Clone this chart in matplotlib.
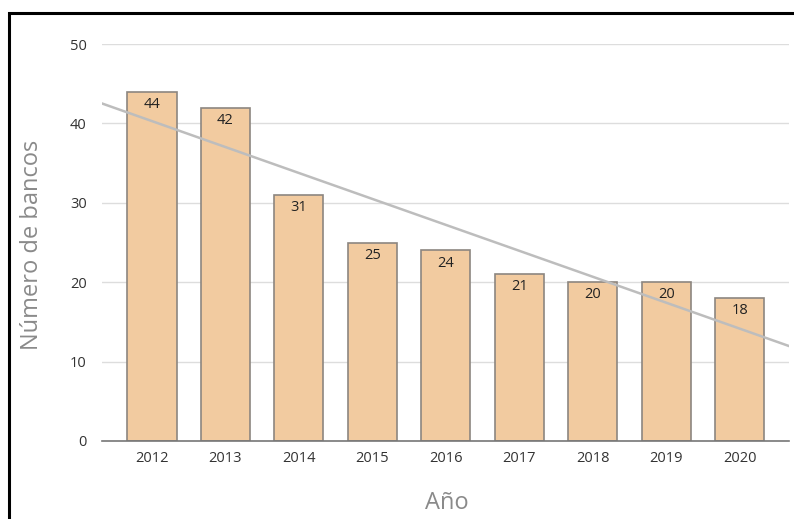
import numpy as np
import matplotlib.pyplot as plt
from matplotlib.patches import Rectangle

# Number of banks per year
years = ['2012', '2013', '2014', '2015', '2016', '2017', '2018', '2019', '2020']
banks = [44, 42, 31, 25, 24, 21, 20, 20, 18]

plt.rcParams['font.family'] = ['Open Sans', 'DejaVu Sans']

fig = plt.figure(figsize=(7.94, 5.19), dpi=100)
ax = fig.add_axes([0.1285, 0.1503, 0.865, 0.7649])

x = np.arange(len(years))
ax.bar(x, banks, width=0.67, color='#f2cba0', edgecolor='#8c8680', linewidth=1.2, zorder=2)

for xi, v in zip(x, banks):
    ax.text(xi, v - 1.6, str(v), ha='center', va='center', fontsize=10.5, color='#222222', zorder=4)

# linear trend line
xlo, xhi = -0.68, 8.67
m, b = np.polyfit(x, banks, 1)
xs = np.array([xlo, xhi])
ax.plot(xs, m * xs + b, color='#bdbdbd', linewidth=1.8, zorder=3)

ax.set_xlim(xlo, xhi)
ax.set_ylim(0, 50)
ax.set_yticks([0, 10, 20, 30, 40, 50])
ax.set_xticks(x)
ax.set_xticklabels(years)
ax.grid(axis='y', color='#dddddd', linewidth=1.0, zorder=0)
ax.set_axisbelow(True)

for s in ['top', 'right', 'left']:
    ax.spines[s].set_visible(False)
ax.spines['bottom'].set_color('#777777')
ax.spines['bottom'].set_linewidth(1.2)
ax.tick_params(axis='both', length=0, labelsize=10.5, colors='#333333')
ax.tick_params(axis='y', pad=11)
ax.tick_params(axis='x', pad=7)

fig.text(32 / 794, 1 - 245 / 519, 'Número de bancos', rotation=90, ha='center', va='center',
         fontsize=17, color='#8a8a8a')
fig.text(447 / 794, 1 - 503 / 519, 'Año', ha='center', va='center', fontsize=17, color='#8a8a8a')

# black frame around the figure
fig.patches.append(Rectangle((8.5 / 794, -0.2), 1.2, 1.2 - 12.5 / 519, transform=fig.transFigure,
                             fill=False, edgecolor='black', linewidth=2.2))

fig.savefig('out.png', dpi=100)
